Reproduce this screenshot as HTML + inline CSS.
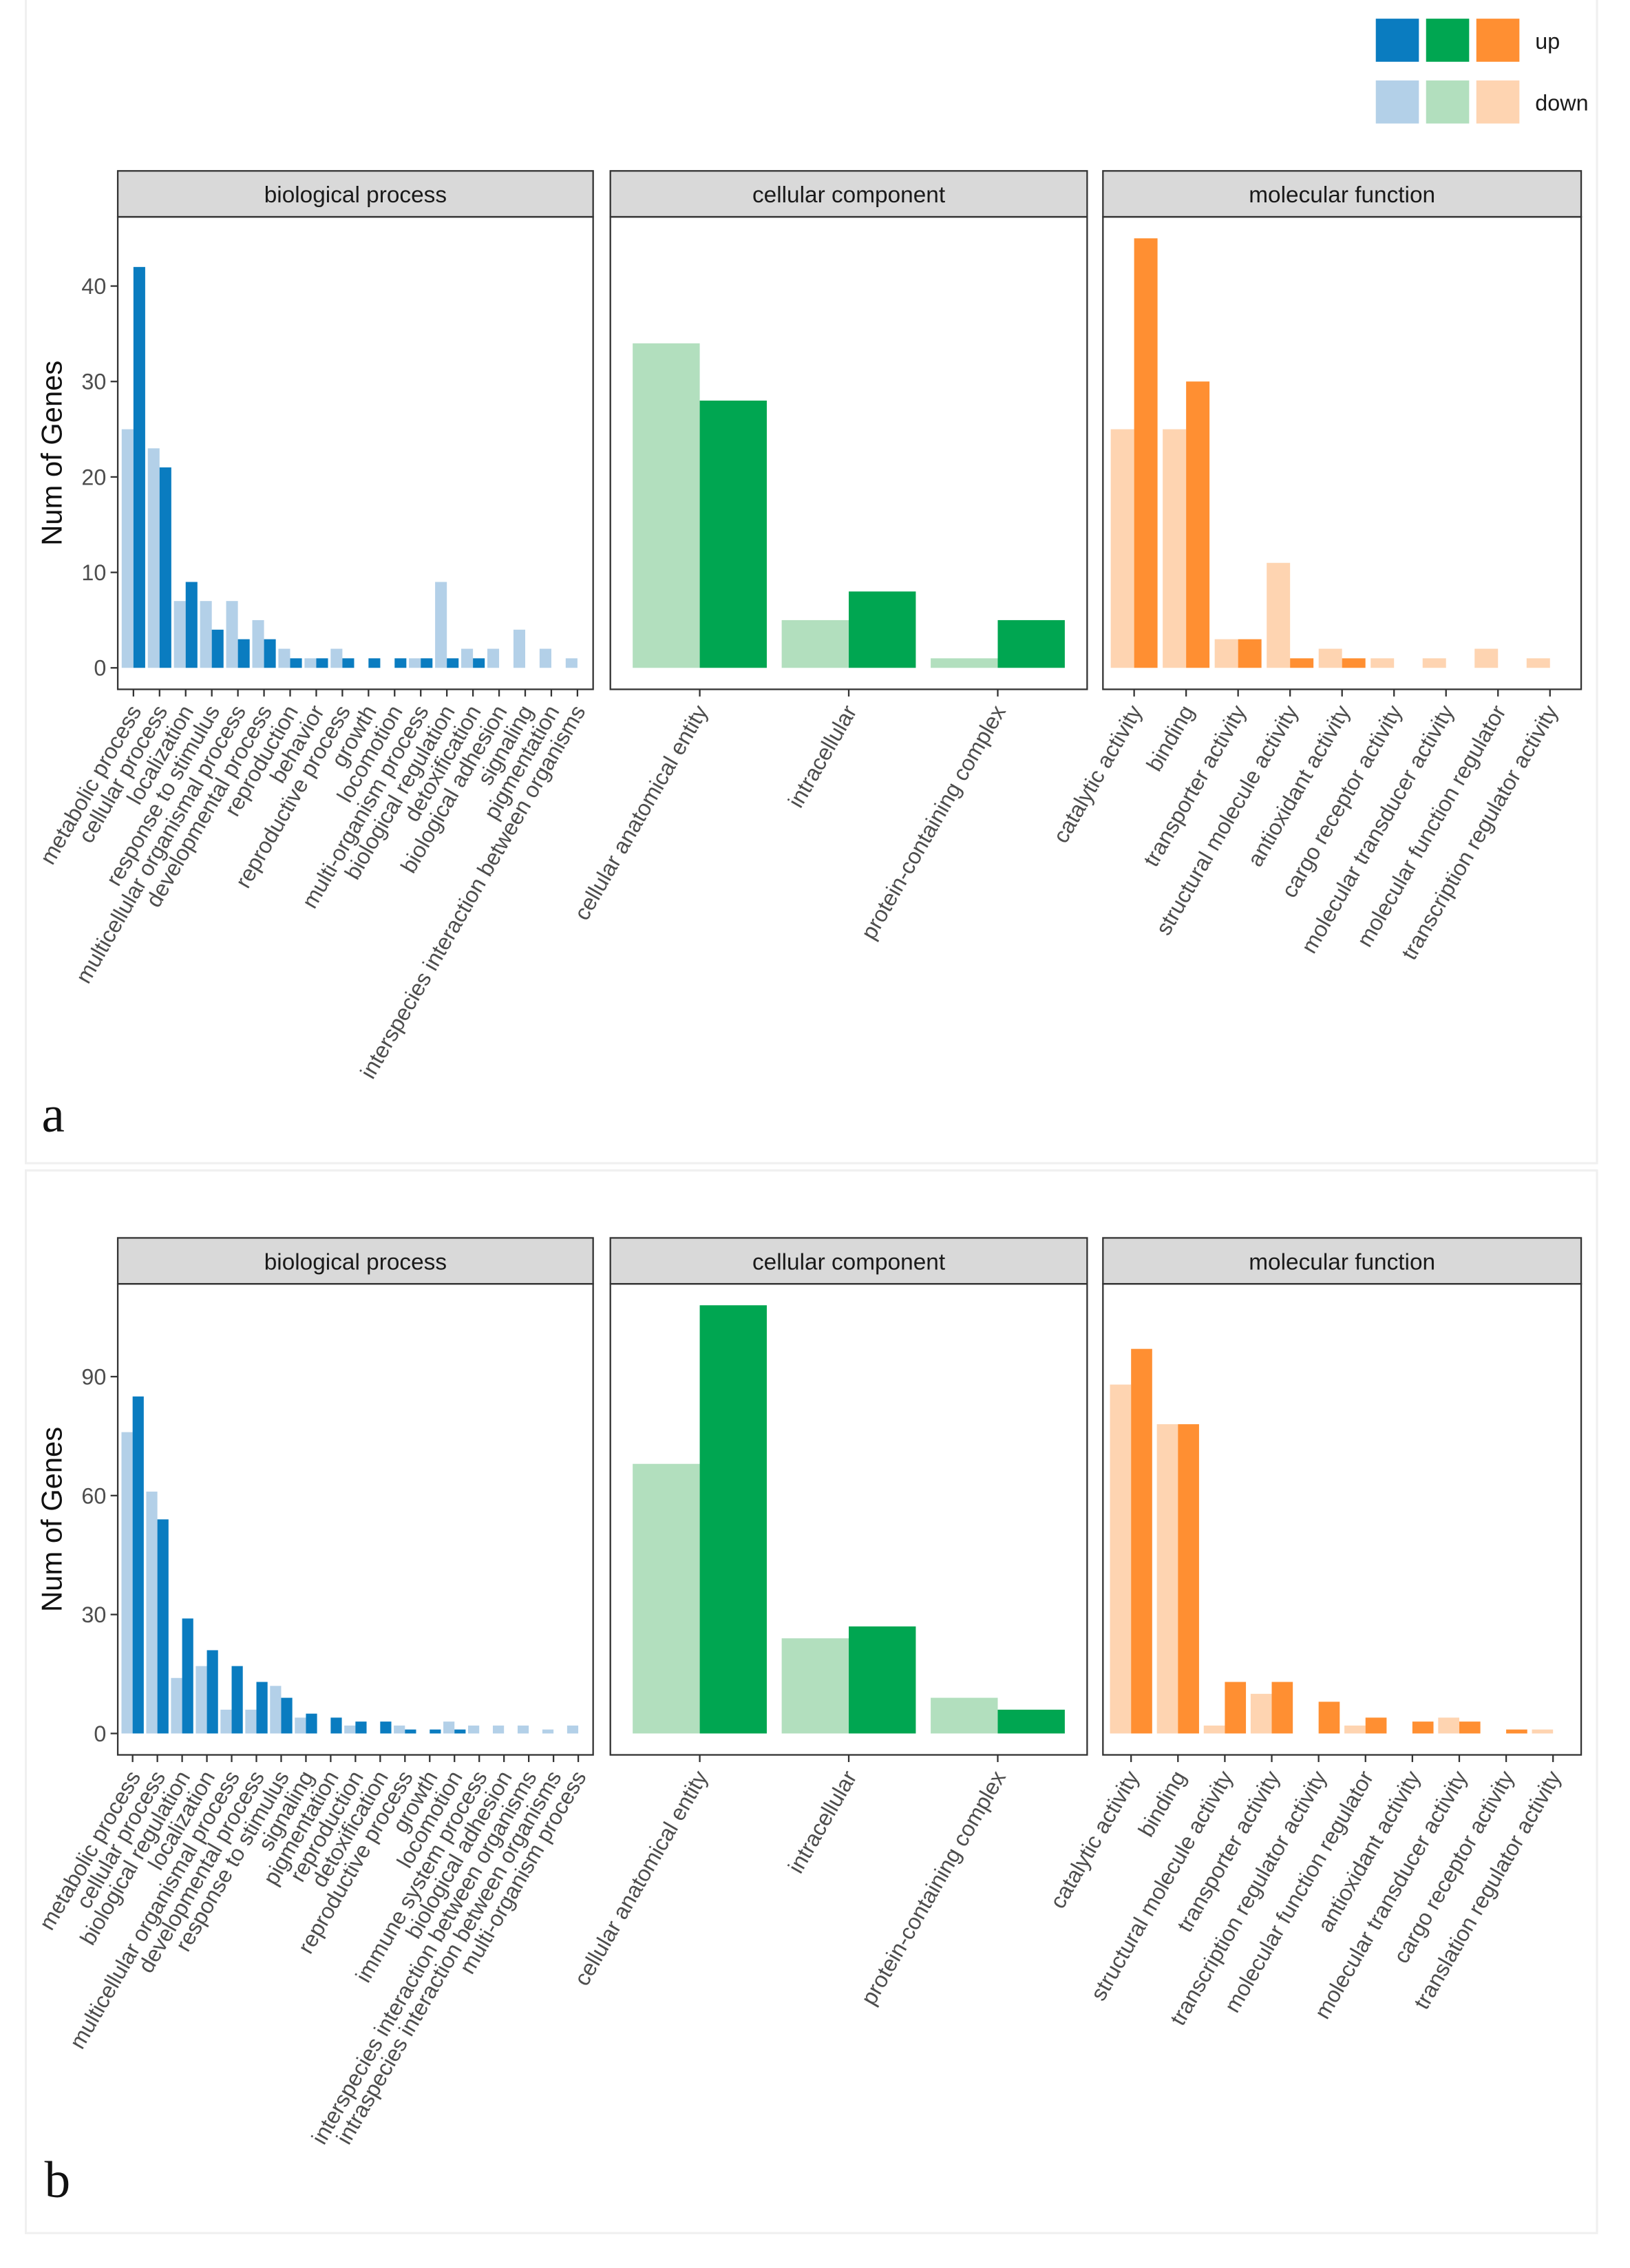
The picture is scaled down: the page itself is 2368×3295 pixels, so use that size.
<!DOCTYPE html>
<html><head><meta charset="utf-8">
<style>
html,body{margin:0;padding:0;background:#fff;}
svg{display:block;}
text{font-family:"Liberation Sans",Arial,sans-serif;}
</style></head>
<body>
<svg id="fig" xmlns="http://www.w3.org/2000/svg" width="2368" height="3295" viewBox="0 0 1135 1579.3">
<rect x="0" y="0" width="1135" height="1579.3" fill="#fff"/>
<rect x="18" y="-2" width="1094" height="812" fill="none" stroke="#f0f0f0" stroke-width="1.5"/>
<rect x="18" y="815" width="1094" height="740" fill="none" stroke="#f0f0f0" stroke-width="1.5"/>
<g>
  <rect x="958" y="13" width="30" height="30" fill="#0a7cc0"/>
  <rect x="993" y="13" width="30" height="30" fill="#00a651"/>
  <rect x="1028" y="13" width="30" height="30" fill="#ff8f32"/>
  <rect x="958" y="56" width="30" height="30" fill="#b3d0e8"/>
  <rect x="993" y="56" width="30" height="30" fill="#b2dfbe"/>
  <rect x="1028" y="56" width="30" height="30" fill="#fed4b1"/>
  <text x="1069" y="34" font-size="15.5" fill="#1a1a1a">up</text>
  <text x="1069" y="77" font-size="15.5" fill="#1a1a1a">down</text>
</g>
<text x="29" y="788" font-size="36" fill="#111" style="font-family:'Liberation Serif',serif">a</text>
<text x="31" y="1530" font-size="36" fill="#111" style="font-family:'Liberation Serif',serif">b</text>
<g id="plots"></g>
</svg>
<script>
// ---- Data: figure a ----
const aBpCats = ["metabolic process","cellular process","localization","response to stimulus","multicellular organismal process","developmental process","reproduction","behavior","reproductive process","growth","locomotion","multi-organism process","biological regulation","detoxification","biological adhesion","signaling","pigmentation","interspecies interaction between organisms"];
const aBpDown = [25,23,7,7,7,5,2,1,2,0,0,1,9,2,2,4,2,1];
const aBpUp   = [42,21,9,4,3,3,1,1,1,1,1,1,1,1,0,0,0,0];
const aCcCats = ["cellular anatomical entity","intracellular","protein-containing complex"];
const aCcDown = [34,5,1];
const aCcUp   = [28,8,5];
const aMfCats = ["catalytic activity","binding","transporter activity","structural molecule activity","antioxidant activity","cargo receptor activity","molecular transducer activity","molecular function regulator","transcription regulator activity"];
const aMfDown = [25,25,3,11,2,1,1,2,1];
const aMfUp   = [45,30,3,1,1,0,0,0,0];
const aTicks  = [0,10,20,30,40];
// ---- Data: figure b ----
const bBpCats = ["metabolic process","cellular process","biological regulation","localization","multicellular organismal process","developmental process","response to stimulus","signaling","pigmentation","reproduction","detoxification","reproductive process","growth","locomotion","immune system process","biological adhesion","interspecies interaction between organisms","intraspecies interaction between organisms","multi-organism process"];
const bBpDown = [76,61,14,17,6,6,12,4,0,2,0,2,0,3,2,2,2,1,2];
const bBpUp   = [85,54,29,21,17,13,9,5,4,3,3,1,1,1,0,0,0,0,0];
const bCcCats = ["cellular anatomical entity","intracellular","protein-containing complex"];
const bCcDown = [68,24,9];
const bCcUp   = [108,27,6];
const bMfCats = ["catalytic activity","binding","structural molecule activity","transporter activity","transcription regulator activity","molecular function regulator","antioxidant activity","molecular transducer activity","cargo receptor activity","translation regulator activity"];
const bMfDown = [88,78,2,10,0,2,0,4,0,1];
const bMfUp   = [97,78,13,13,8,4,3,3,1,0];
const bTicks  = [0,30,60,90];

const NS="http://www.w3.org/2000/svg";
const root=document.getElementById('plots');
function mk(tag,attrs,parent){const e=document.createElementNS(NS,tag);for(const k in attrs)e.setAttribute(k,attrs[k]);(parent||root).appendChild(e);return e;}

const panelsX=[[82,413],[425,757],[768,1101]];
const colors=[["#b3d0e8","#0a7cc0"],["#b2dfbe","#00a651"],["#fed4b1","#ff8f32"]];
const titles=["biological process","cellular component","molecular function"];

function drawFigure(id, stripTop, panelBottom, ymax, ticks, sets){
  const stripBot=stripTop+32;
  const lo=-ymax*0.05, hi=ymax*1.05;
  const yScale=v=>panelBottom-(v-lo)/(hi-lo)*(panelBottom-stripBot);
  const g=mk('g',{});
  
  
  const yt=mk('text',{x:0,y:0,'font-size':20,fill:'#111','text-anchor':'middle',transform:`translate(43,${(stripBot+panelBottom)/2}) rotate(-90)`},g);
  yt.textContent='Num of Genes';
  
  
  ticks.forEach(t=>{
    const y=yScale(t);
    const tl=mk('line',{x1:77,x2:82,y1:y,y2:y,stroke:'#333','stroke-width':1.1},g);
    
    
    const tx=mk('text',{x:74,y:y+5.5,'font-size':15.5,fill:'#4d4d4d','text-anchor':'end'},g);
    tx.textContent=t;
    
    
  });
  sets.forEach((s,pi)=>{
    const [x0,x1]=panelsX[pi];
    const n=s.cats.length;
    const unit=(x1-x0)/(n-1+1.2);
    const xc=i=>x0+(0.6+i)*unit;
    const pg=mk('g',{},g);
    
    
    const st=mk('rect',{x:x0,y:stripTop,width:x1-x0,height:32,fill:'#d9d9d9',stroke:'#333','stroke-width':1.1},pg);
    
    
    const stt=mk('text',{x:(x0+x1)/2,y:stripTop+22,'font-size':16,fill:'#1a1a1a','text-anchor':'middle'},pg);
    stt.textContent=titles[pi];
    
    
    const half=0.45*unit;
    for(let i=0;i<n;i++){
      const c=xc(i);
      if(s.down[i]>0){
        const r=mk('rect',{x:c-half,y:yScale(s.down[i]),width:half,height:yScale(0)-yScale(s.down[i]),fill:colors[pi][0]},pg);
        
        
      }
      if(s.up[i]>0){
        const r=mk('rect',{x:c,y:yScale(s.up[i]),width:half,height:yScale(0)-yScale(s.up[i]),fill:colors[pi][1]},pg);
        
        
      }
      const tk=mk('line',{x1:c,x2:c,y1:panelBottom,y2:panelBottom+5,stroke:'#333','stroke-width':1.1},pg);
      
      
      const lb=mk('text',{x:0,y:0,'font-size':15.5,fill:'#4d4d4d','text-anchor':'end',transform:`translate(${c+6},${panelBottom+15}) rotate(-60)`},pg);
      lb.textContent=s.cats[i];
      
      
    }
    const bd=mk('rect',{x:x0,y:stripBot,width:x1-x0,height:panelBottom-stripBot,fill:'none',stroke:'#333','stroke-width':1.1},pg);
    
    
  });
}
drawFigure('figure-a',119,480,45,aTicks,[
  {cats:aBpCats,down:aBpDown,up:aBpUp},
  {cats:aCcCats,down:aCcDown,up:aCcUp},
  {cats:aMfCats,down:aMfDown,up:aMfUp}]);
drawFigure('figure-b',862,1222,108,bTicks,[
  {cats:bBpCats,down:bBpDown,up:bBpUp},
  {cats:bCcCats,down:bCcDown,up:bCcUp},
  {cats:bMfCats,down:bMfDown,up:bMfUp}]);
</script>
</body></html>
